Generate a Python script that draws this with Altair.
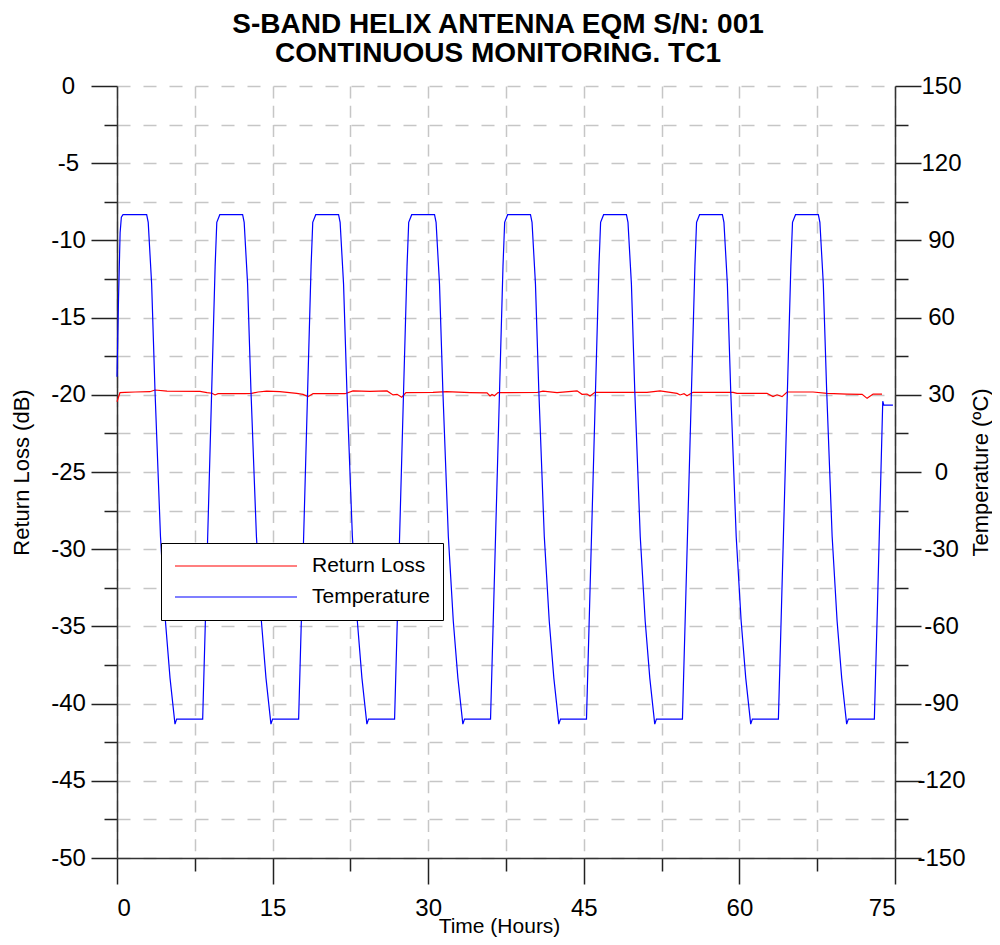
import altair as alt
import pandas as pd

FONT = "Liberation Sans"

# ---- Temperature (deg C) vs time (hours) ----
temp_hours = [
    0.00, 0.15, 0.30, 0.42, 0.58,
    2.86, 3.01, 3.34, 3.66, 4.19, 4.67, 5.11, 5.59, 5.75, 8.26, 8.56, 9.13, 9.46, 9.62, 9.91,
    12.11, 12.26, 12.59, 12.91, 13.44, 13.92, 14.36, 14.84, 15.00, 17.51, 17.81, 18.38, 18.71, 18.87, 19.16,
    21.36, 21.51, 21.84, 22.16, 22.69, 23.17, 23.61, 24.09, 24.25, 26.76, 27.06, 27.63, 27.96, 28.12, 28.41,
    30.61, 30.76, 31.09, 31.41, 31.94, 32.42, 32.86, 33.34, 33.50, 36.01, 36.31, 36.88, 37.21, 37.37, 37.66,
    39.86, 40.01, 40.34, 40.66, 41.19, 41.67, 42.11, 42.59, 42.75, 45.26, 45.56, 46.13, 46.46, 46.62, 46.91,
    49.11, 49.26, 49.59, 49.91, 50.44, 50.92, 51.36, 51.84, 52.00, 54.51, 54.81, 55.38, 55.71, 55.87, 56.16,
    58.36, 58.51, 58.84, 59.16, 59.69, 60.17, 60.61, 61.09, 61.25, 63.76, 64.06, 64.63, 64.96, 65.12, 65.41,
    67.61, 67.76, 68.09, 68.41, 68.94, 69.42, 69.86, 70.34, 70.50, 73.01, 73.31, 73.82, 73.92, 74.80,
]
temp_values = [
    37, 68, 93, 99, 100,
    100, 97, 73, 32, -25, -58, -80, -98, -96, -96, -52, 32, 80, 97, 100,
    100, 97, 73, 32, -25, -58, -80, -98, -96, -96, -52, 32, 80, 97, 100,
    100, 97, 73, 32, -25, -58, -80, -98, -96, -96, -52, 32, 80, 97, 100,
    100, 97, 73, 32, -25, -58, -80, -98, -96, -96, -52, 32, 80, 97, 100,
    100, 97, 73, 32, -25, -58, -80, -98, -96, -96, -52, 32, 80, 97, 100,
    100, 97, 73, 32, -25, -58, -80, -98, -96, -96, -52, 32, 80, 97, 100,
    100, 97, 73, 32, -25, -58, -80, -98, -96, -96, -52, 32, 80, 97, 100,
    100, 97, 73, 32, -25, -58, -80, -98, -96, -96, -52, 27.5, 26, 26,
]

# ---- Return loss (dB) vs time (hours) ----
rl_hours = [
    0.00, 0.29, 0.77, 1.74, 3.18, 3.66, 4.82, 8.00, 8.68, 9.16, 9.45, 9.74,
    12.34, 12.99, 13.60, 14.43, 15.70, 17.32, 17.93, 18.41, 18.90,
    21.98, 22.75, 24.39, 26.03, 26.61, 27.00, 27.45, 27.86,
    30.46, 31.78, 34.03, 35.67, 35.96, 36.15, 36.39, 36.73,
    40.49, 41.07, 42.42, 44.35, 44.83, 45.31, 45.60, 46.08,
    51.09, 52.35, 53.99, 54.28, 54.66, 54.95, 55.53,
    59.39, 59.77, 62.66, 63.24, 63.63, 64.11, 64.60,
    67.10, 68.45, 70.38, 71.83, 72.31, 72.89, 73.75,
]
rl_values = [
    -20.45, -19.86, -19.84, -19.82, -19.80, -19.69, -19.76, -19.78, -19.86, -19.90, -20.01, -19.93,
    -19.93, -19.91, -19.82, -19.76, -19.80, -19.91, -19.97, -20.12, -19.93,
    -19.93, -19.75, -19.78, -19.75, -20.01, -19.97, -20.16, -19.86,
    -19.84, -19.80, -19.86, -19.88, -20.08, -19.98, -20.06, -19.86,
    -19.85, -19.76, -19.86, -19.74, -19.97, -19.95, -20.08, -19.84,
    -19.84, -19.74, -19.91, -20.01, -19.93, -20.06, -19.84,
    -19.84, -19.91, -19.91, -20.12, -20.00, -20.12, -19.82,
    -19.82, -19.91, -19.95, -19.97, -20.23, -19.95, -19.95,
]

# ---- Tick values ----
hour_ticks = [0, 7.5, 15, 22.5, 30, 37.5, 45, 52.5, 60, 67.5, 75]
db_ticks = [-50, -47.5, -45, -42.5, -40, -37.5, -35, -32.5, -30, -27.5, -25, -22.5,
            -20, -17.5, -15, -12.5, -10, -7.5, -5, -2.5, 0]
temp_ticks = [-150, -135, -120, -105, -90, -75, -60, -45, -30, -15, 0,
              15, 30, 45, 60, 75, 90, 105, 120, 135, 150]

series_names = ["Return Loss", "Temperature"]
series_colors = ["#ff0000", "#0000ff"]

rl_df = pd.DataFrame({"hours": rl_hours, "value": rl_values, "series": series_names[0]})
t_df = pd.DataFrame({"hours": temp_hours, "value": temp_values, "series": series_names[1]})


def major(step):
    return f"abs(datum.value % {step}) < 0.01"


def tick_size(step):
    return {"condition": {"test": major(step), "value": 26}, "value": 13}


def label_expr(step):
    return f"{major(step)} ? toString(datum.value) : ''"


x_enc = alt.X(
    "hours:Q",
    scale=alt.Scale(domain=[0, 75], nice=False, zero=False),
    axis=alt.Axis(
        values=hour_ticks, grid=True, gridDash=[12, 7.3],
        tickSize=tick_size(15),
        labelExpr=label_expr(15),
        labelPadding=12, labelAngle=0,
        title="Time (Hours)", titleX=382, titleY=74.5, titleFontSize=21,
        titleAlign="center", titleBaseline="alphabetic",
    ),
)

color = alt.Color(
    "series:N",
    scale=alt.Scale(domain=series_names, range=series_colors),
    legend=alt.Legend(
        title=None, orient="none", legendX=44, legendY=457,
        fillColor="white", strokeColor="black", padding=13,
        symbolType="stroke", symbolSize=14884, symbolStrokeWidth=1.2,
        clipHeight=20, rowPadding=10,
        labelFont=FONT, labelFontSize=21, labelOffset=14, labelLimit=0,
        labelColor="black",
    ),
)

left = alt.Chart(rl_df).mark_line(strokeWidth=1.2).encode(
    x=x_enc,
    y=alt.Y(
        "value:Q",
        scale=alt.Scale(domain=[-50, 0], nice=False, zero=False),
        axis=alt.Axis(
            orient="left", values=db_ticks, grid=True, gridDash=[13, 13],
            tickSize=tick_size(5),
            labelExpr=label_expr(5),
            labelAlign="center", labelBaseline="middle", labelPadding=23,
            title="Return Loss (dB)", titleAngle=270, titleX=-89, titleY=386,
            titleAlign="center", titleBaseline="alphabetic",
        ),
    ),
    color=color,
)

right = alt.Chart(t_df).mark_line(strokeWidth=1.2).encode(
    x=x_enc,
    y=alt.Y(
        "value:Q",
        scale=alt.Scale(domain=[-150, 150], nice=False, zero=False),
        axis=alt.Axis(
            orient="right", values=temp_ticks, grid=False,
            tickSize=tick_size(30),
            labelExpr=label_expr(30),
            labelAlign="center", labelBaseline="middle", labelPadding=20,
            title="Temperature (ºC)", titleAngle=270, titleX=92, titleY=386,
            titleAlign="center", titleBaseline="alphabetic",
        ),
    ),
    color=color,
)

chart = (
    alt.layer(left, right)
    .resolve_scale(y="independent")
    .properties(
        width=778,
        height=772,
        autosize=alt.AutoSizeParams(type="none"),
        padding={"left": 109, "top": 78, "right": 97, "bottom": 79},
        title=alt.TitleParams(
            text=["S-BAND HELIX ANTENNA EQM S/N: 001", "CONTINUOUS MONITORING. TC1"],
            font=FONT, fontSize=28, fontWeight="bold", color="black",
            anchor="middle", dx=-8, offset=6, lineHeight=29,
        ),
    )
    .configure_view(stroke=None)
    .configure_axis(
        domainColor="#333333", domainWidth=1.5,
        tickColor="#222222", tickWidth=1.5,
        labelFont=FONT, labelFontSize=24, labelColor="black",
        titleFont=FONT, titleFontSize=22, titleFontWeight="normal", titleColor="black",
        gridColor="#c6c6c6", gridWidth=1.5,
    )
)

chart.save("out.html", embed_options={"renderer": "svg", "actions": False})
